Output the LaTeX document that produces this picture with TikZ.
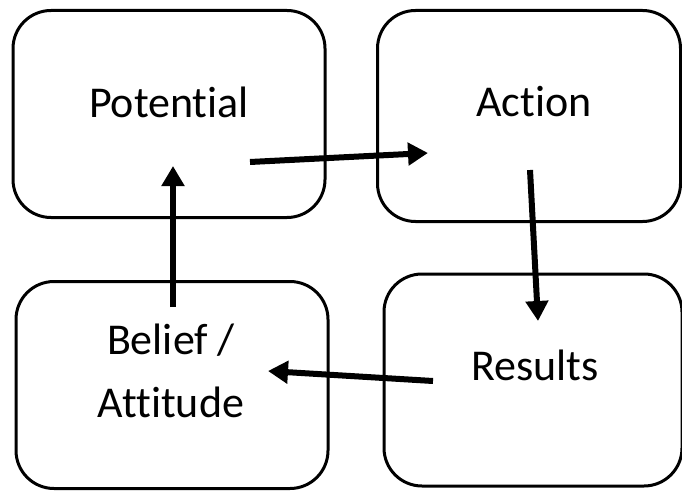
\documentclass[tikz,border=0pt]{standalone}
\usepackage{fontspec}
\setmainfont{Carlito}[Ligatures=NoCommon,RawFeature={-liga}]
\usetikzlibrary{arrows.meta}
\begin{document}
\begin{tikzpicture}[x=1pt,y=-1pt,
  box/.style={draw=black,line width=3pt,rounded corners=38pt,fill=none},
  lbl/.style={font=\fontsize{44}{63}\selectfont,align=center,inner sep=0pt},
  conn/.style={line width=6pt,-{Triangle[length=20pt,width=22pt]}}]
\useasboundingbox[fill=white] (0,0) rectangle (682,492);
% boxes
\node[box,minimum width=312pt,minimum height=207pt] (pbox) at (169,114) {};
\node[box,minimum width=303pt,minimum height=211pt] (abox) at (529,116) {};
\node[box,minimum width=312pt,minimum height=207pt] (bbox) at (172,385) {};
\node[box,minimum width=298pt,minimum height=212pt] (rbox) at (533,380) {};
% labels
\node[lbl] (ptxt) at (169,102) {Potential};
\node[lbl] (atxt) at (534,102) {Action};
\node[lbl] (btxt) at (171,371) {Belief /\\Attitude};
\node[lbl] (rtxt) at (535,365) {Results};
% arrow ends
\coordinate (p1) at (250,162);
\coordinate (a0) at (428,153);
\coordinate (a1) at (530,170);
\coordinate (r0) at (538,321);
\coordinate (r1) at (433,381);
\coordinate (b0) at (268,371);
\coordinate (b1) at (173,307);
\coordinate (p0) at (173,166);
\draw[conn] (p1) -- (a0);
\draw[conn] (a1) -- (r0);
\draw[conn] (r1) -- (b0);
\draw[conn] (b1) -- (p0);
\end{tikzpicture}
\end{document}
